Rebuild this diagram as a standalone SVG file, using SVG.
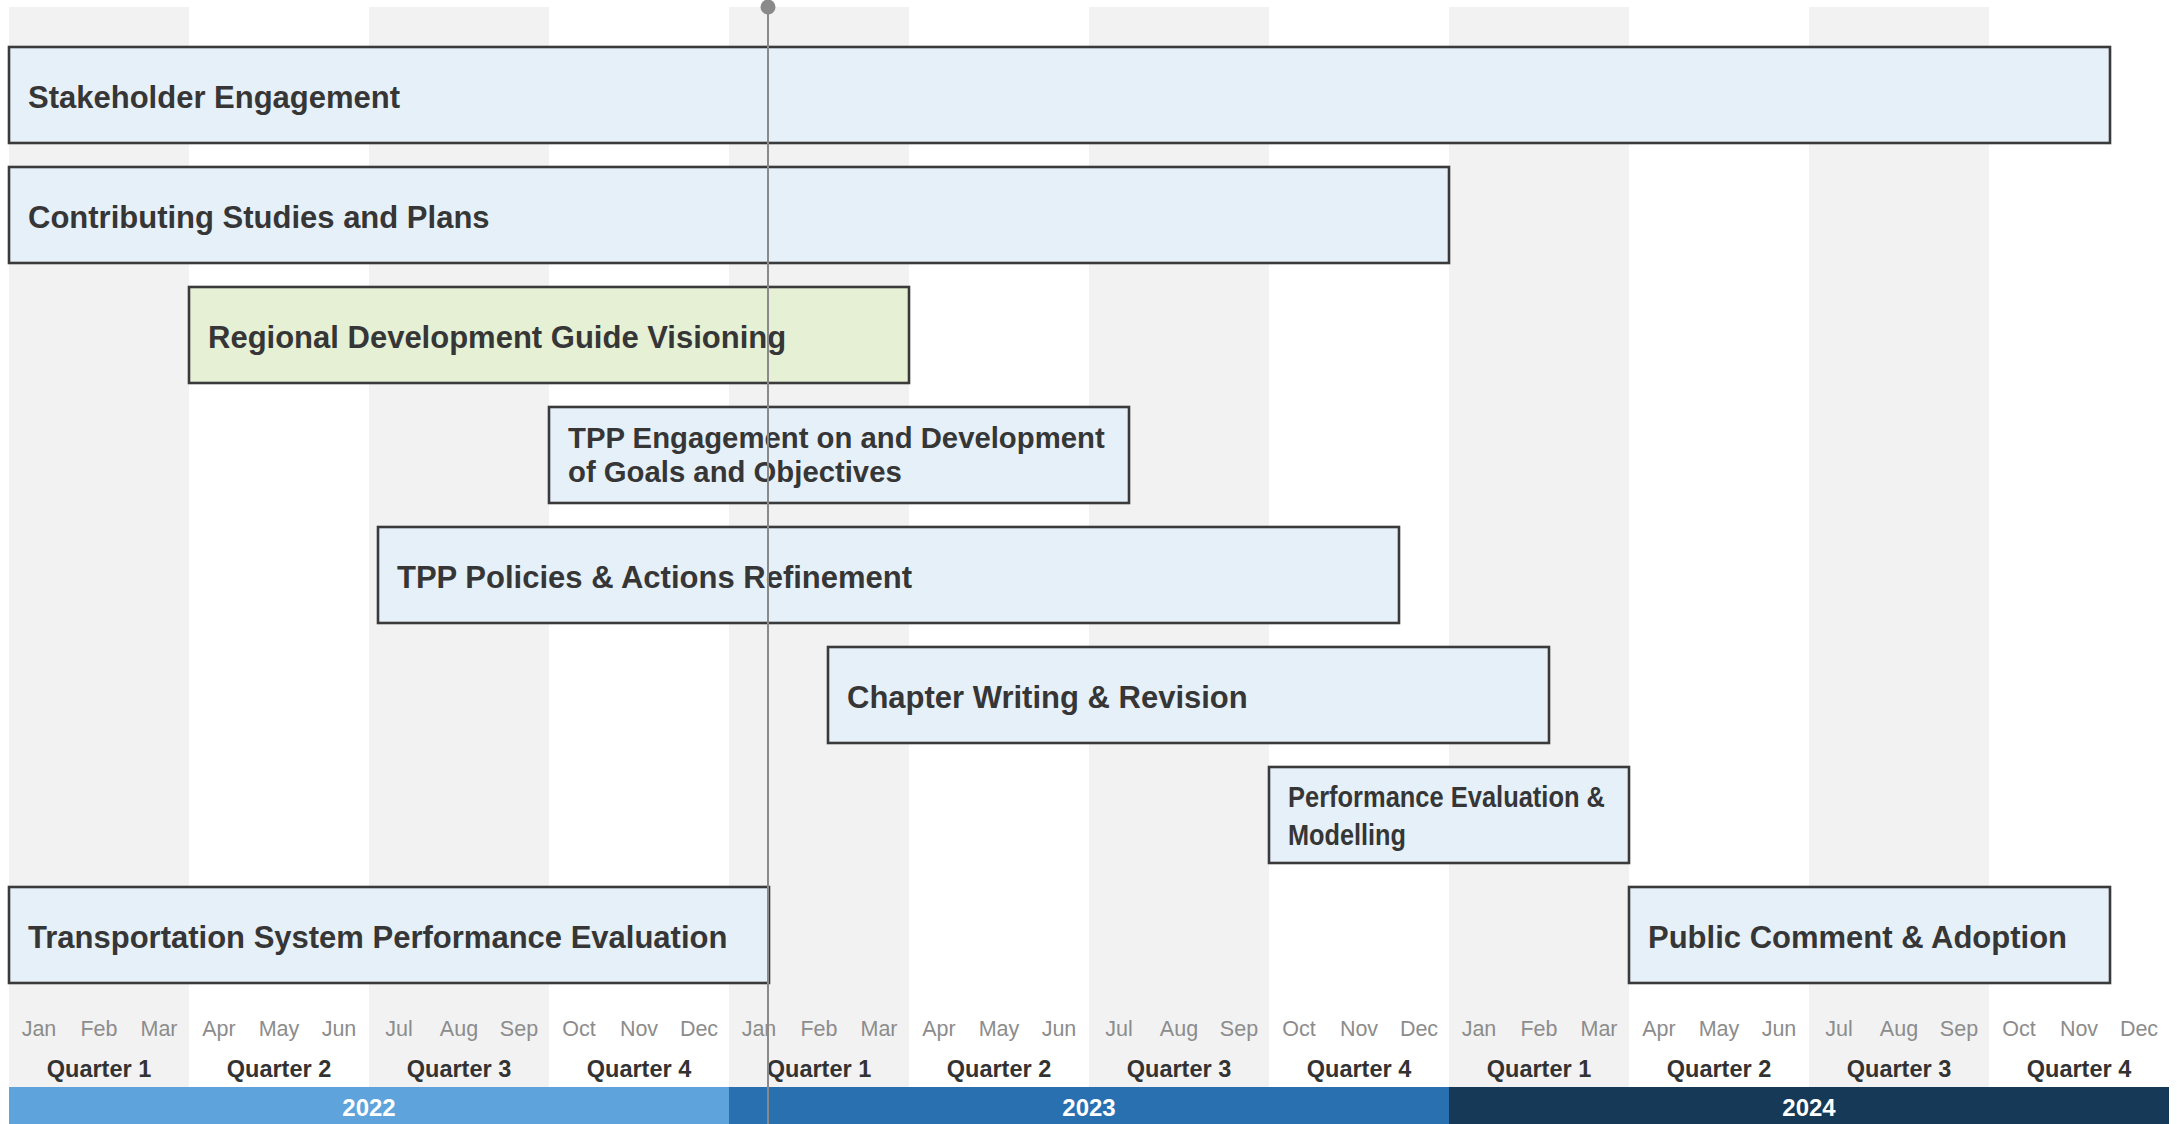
<svg xmlns="http://www.w3.org/2000/svg" width="2177" height="1124" viewBox="0 0 2177 1124">
<style>
.shade{fill:#f2f2f2}
.bar{fill:#e6f0f9;stroke:#3a3a3a;stroke-width:2.6}
.bar.green{fill:#e5f0d4}
.lbl{font-family:"Liberation Sans",Arial,sans-serif;font-weight:bold;font-size:31px;fill:#363636}
.lbl2{font-family:"Liberation Sans",Arial,sans-serif;font-weight:bold;font-size:29.3px;fill:#363636}
.mon{font-family:"Liberation Sans",Arial,sans-serif;font-size:21.5px;fill:#8c8c8c;text-anchor:middle}
.qtr{font-family:"Liberation Sans",Arial,sans-serif;font-weight:bold;font-size:23.5px;fill:#333;text-anchor:middle}
.yr{font-family:"Liberation Sans",Arial,sans-serif;font-weight:bold;font-size:24px;fill:#fff;text-anchor:middle}
</style>
<rect width="2177" height="1124" fill="#fff"/>
<g id="grid">
<rect class="shade" x="9" y="7" width="180" height="1080"/>
<rect class="shade" x="369" y="7" width="180" height="1080"/>
<rect class="shade" x="729" y="7" width="180" height="1080"/>
<rect class="shade" x="1089" y="7" width="180" height="1080"/>
<rect class="shade" x="1449" y="7" width="180" height="1080"/>
<rect class="shade" x="1809" y="7" width="180" height="1080"/>
</g>
<g id="task-stakeholder"><rect class="bar" x="9" y="47" width="2101" height="96"/><text class="lbl" x="28" y="108">Stakeholder Engagement</text></g>
<g id="task-contributing"><rect class="bar" x="9" y="167" width="1440" height="96"/><text class="lbl" x="28" y="228">Contributing Studies and Plans</text></g>
<g id="task-rdg"><rect class="bar green" x="189" y="287" width="720" height="96"/><text class="lbl" x="208" y="348">Regional Development Guide Visioning</text></g>
<g id="task-tpp-engagement"><rect class="bar" x="549" y="407" width="580" height="96"/><text class="lbl2" x="568" y="448">TPP Engagement on and Development</text><text class="lbl2" x="568" y="482">of Goals and Objectives</text></g>
<g id="task-tpp-policies"><rect class="bar" x="378" y="527" width="1021" height="96"/><text class="lbl" x="397" y="588">TPP Policies &amp; Actions Refinement</text></g>
<g id="task-chapter"><rect class="bar" x="828" y="647" width="721" height="96"/><text class="lbl" x="847" y="708">Chapter Writing &amp; Revision</text></g>
<g id="task-performance"><rect class="bar" x="1269" y="767" width="360" height="96"/><text class="lbl2" x="1288" y="807" textLength="317" lengthAdjust="spacingAndGlyphs">Performance Evaluation &amp;</text><text class="lbl2" x="1288" y="845" textLength="118" lengthAdjust="spacingAndGlyphs">Modelling</text></g>
<g id="task-public"><rect class="bar" x="1629" y="887" width="481" height="96"/><text class="lbl" x="1648" y="948">Public Comment &amp; Adoption</text></g>
<g id="task-transport"><rect class="bar" x="9" y="887" width="760" height="96"/><text class="lbl" x="28" y="948">Transportation System Performance Evaluation</text></g>
<g id="months">
<text class="mon" x="39" y="1036">Jan</text><text class="mon" x="99" y="1036">Feb</text><text class="mon" x="159" y="1036">Mar</text>
<text class="mon" x="219" y="1036">Apr</text><text class="mon" x="279" y="1036">May</text><text class="mon" x="339" y="1036">Jun</text>
<text class="mon" x="399" y="1036">Jul</text><text class="mon" x="459" y="1036">Aug</text><text class="mon" x="519" y="1036">Sep</text>
<text class="mon" x="579" y="1036">Oct</text><text class="mon" x="639" y="1036">Nov</text><text class="mon" x="699" y="1036">Dec</text>
<text class="mon" x="759" y="1036">Jan</text><text class="mon" x="819" y="1036">Feb</text><text class="mon" x="879" y="1036">Mar</text>
<text class="mon" x="939" y="1036">Apr</text><text class="mon" x="999" y="1036">May</text><text class="mon" x="1059" y="1036">Jun</text>
<text class="mon" x="1119" y="1036">Jul</text><text class="mon" x="1179" y="1036">Aug</text><text class="mon" x="1239" y="1036">Sep</text>
<text class="mon" x="1299" y="1036">Oct</text><text class="mon" x="1359" y="1036">Nov</text><text class="mon" x="1419" y="1036">Dec</text>
<text class="mon" x="1479" y="1036">Jan</text><text class="mon" x="1539" y="1036">Feb</text><text class="mon" x="1599" y="1036">Mar</text>
<text class="mon" x="1659" y="1036">Apr</text><text class="mon" x="1719" y="1036">May</text><text class="mon" x="1779" y="1036">Jun</text>
<text class="mon" x="1839" y="1036">Jul</text><text class="mon" x="1899" y="1036">Aug</text><text class="mon" x="1959" y="1036">Sep</text>
<text class="mon" x="2019" y="1036">Oct</text><text class="mon" x="2079" y="1036">Nov</text><text class="mon" x="2139" y="1036">Dec</text>
</g>
<g id="quarters">
<text class="qtr" x="99" y="1077">Quarter 1</text><text class="qtr" x="279" y="1077">Quarter 2</text><text class="qtr" x="459" y="1077">Quarter 3</text><text class="qtr" x="639" y="1077">Quarter 4</text>
<text class="qtr" x="819" y="1077">Quarter 1</text><text class="qtr" x="999" y="1077">Quarter 2</text><text class="qtr" x="1179" y="1077">Quarter 3</text><text class="qtr" x="1359" y="1077">Quarter 4</text>
<text class="qtr" x="1539" y="1077">Quarter 1</text><text class="qtr" x="1719" y="1077">Quarter 2</text><text class="qtr" x="1899" y="1077">Quarter 3</text><text class="qtr" x="2079" y="1077">Quarter 4</text>
</g>
<g id="years">
<rect x="9" y="1087" width="720" height="37" fill="#5ea3db"/><text class="yr" x="369" y="1116">2022</text>
<rect x="729" y="1087" width="720" height="37" fill="#2870b0"/><text class="yr" x="1089" y="1116">2023</text>
<rect x="1449" y="1087" width="720" height="37" fill="#153957"/><text class="yr" x="1809" y="1116">2024</text>
</g>
<g id="connectors">
<line x1="768" y1="7" x2="768" y2="1124" stroke="#8a8a8a" stroke-width="2"/>
<circle cx="768" cy="7" r="7.5" fill="#8a8a8a"/>
</g>
</svg>
